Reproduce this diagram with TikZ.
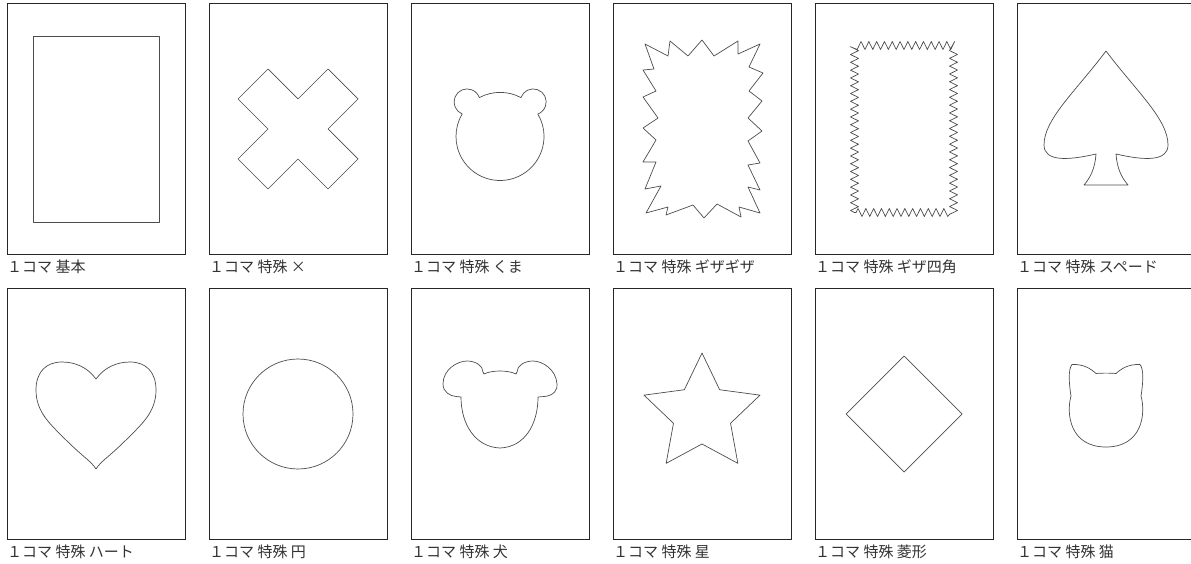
\documentclass[tikz,border=0pt]{standalone}
\usepackage{fontspec}
\setmainfont{Noto Sans CJK JP}
\usetikzlibrary{positioning, decorations.pathmorphing}
\tikzset{
  panel/.style ={draw=black!85, line width=0.9pt, inner sep=0pt, outer sep=0pt,
                 minimum width=178pt, minimum height=251pt},
  cut/.style   ={draw=black!70, line width=0.7pt, line join=round},
  lbl/.style   ={inner sep=0pt, text=black!80,
                 font=\fontsize{15pt}{15pt}\selectfont},
}

\begin{document}
\begin{tikzpicture}[x=1pt, y=1pt, node distance=24pt]
  \useasboundingbox (0,0) rectangle (1191,-564);
  % panels, top row
  \node[panel] (p1) at (96,-129) {};
  \node[panel, right=of p1] (p2) {};
  \node[panel, right=of p2] (p3) {};
  \node[panel, right=of p3] (p4) {};
  \node[panel, right=of p4] (p5) {};
  \node[panel, right=of p5] (p6) {};
  % panels, bottom row
  \node[panel, below=34pt of p1] (p7) {};
  \node[panel, right=of p7] (p8) {};
  \node[panel, right=of p8] (p9) {};
  \node[panel, right=of p9] (p10) {};
  \node[panel, right=of p10] (p11) {};
  \node[panel, right=of p11] (p12) {};
  % captions
  \foreach \i/\t in {1/基本, 2/特殊 ×, 3/特殊 くま, 4/特殊 ギザギザ,
                     5/特殊 ギザ四角, 6/特殊 スペード, 7/特殊 ハート, 8/特殊 円,
                     9/特殊 犬, 10/特殊 星, 11/特殊 菱形, 12/特殊 猫}
    \node[lbl, below right=5pt and 0pt of p\i.south west] (l\i) {１コマ \t};

  % basic
  \draw[cut, shift={(p1.center)}] (-63,-93) rectangle (63,93);
  % cross
  \draw[cut, shift={(p2.center)}] (0,30) -- (30,60) -- (60,30) -- (30,0) -- (60,-30)
    -- (30,-60) -- (0,-30) -- (-30,-60) -- (-60,-30) -- (-30,0) -- (-60,30)
    -- (-30,60) -- cycle;
  % bear
  \draw[cut, shift={(p3.center)}] (0,-7.5) ++(30.8:44)
    arc[start angle=30.8, end angle=-210.8, radius=44]
    arc[start angle=248, end angle=19.4, radius=13]
    arc[start angle=118.2, end angle=61.8, radius=44]
    arc[start angle=160.6, end angle=-68, radius=13] -- cycle;
  % spikes
  \draw[cut, shift={(p4.center)}] (-57,85) -- (-34,73) -- (-32,88) -- (-14,73)
    -- (0,89) -- (12,73) -- (36,88) -- (36,75) -- (58,85) -- (47,62) -- (61,56)
    -- (47,38) -- (60,28) -- (46,11) -- (60,-2) -- (46,-12) -- (58,-34)
    -- (46,-36) -- (58,-61) -- (46,-58) -- (58,-84) -- (37,-78) -- (39,-88)
    -- (15,-75) -- (2,-89) -- (-9,-76) -- (-36,-86) -- (-34,-78) -- (-56,-84)
    -- (-41,-57) -- (-57,-60) -- (-46,-33) -- (-59,-33) -- (-46,-11) -- (-59,1)
    -- (-44,11) -- (-59,32) -- (-46,38) -- (-59,59) -- (-48,60) -- cycle;
  % zigzag frame
  \draw[cut, shift={(p5.center)}, decorate,
        decoration={zigzag, segment length=7.8pt, amplitude=4pt}]
    (-49.5,-83.5) rectangle (49.5,83.5);
  % spade
  \draw[cut, shift={(p6.center)}] (0,78) .. controls (-30,38) and (-62,10) .. (-62,-16)
    .. controls (-62,-32) and (-40,-32) .. (-10,-25)
    .. controls (-11,-40) and (-16,-49) .. (-22,-56) -- (22,-56)
    .. controls (16,-49) and (11,-40) .. (10,-25)
    .. controls (40,-32) and (62,-32) .. (62,-16)
    .. controls (62,10) and (30,38) .. (0,78) -- cycle;
  % heart
  \draw[cut, shift={(p7.center)}] (0,35) .. controls (-8,46) and (-20,52) .. (-34,52)
    .. controls (-50,52) and (-60,42) .. (-60,24)
    .. controls (-60,2) and (-46,-10) .. (-30,-26)
    .. controls (-14,-42) and (-4,-48) .. (0,-55)
    .. controls (4,-48) and (14,-42) .. (30,-26)
    .. controls (46,-10) and (60,2) .. (60,24)
    .. controls (60,42) and (50,52) .. (34,52)
    .. controls (20,52) and (8,46) .. (0,35) -- cycle;
  % circle
  \draw[cut] (p8.center) circle[radius=55];
  % dog
  \draw[cut, shift={(p9.center)}] (-39,17) .. controls (-39,-10) and (-25,-33) .. (0,-34)
    .. controls (25,-33) and (38,-10) .. (38,17) -- (44,17.5)
    .. controls (54,18) and (58,25) .. (57,30)
    .. controls (56,45) and (42,53) .. (33,53)
    .. controls (24,53) and (17,48) .. (17,42) -- (16,40)
    .. controls (8,44) and (-8,44) .. (-16,40) -- (-17,42)
    .. controls (-17,48) and (-24,53) .. (-33,53)
    .. controls (-42,53) and (-57,45) .. (-57,30)
    .. controls (-57,22) and (-50,18) .. (-44,17.5) -- cycle;
  % star
  \draw[cut, shift={(p10.center)}] (90:61) -- (126:30) -- (162:61) -- (198:30)
    -- (234:61) -- (270:30) -- (306:61) -- (342:30) -- (18:61) -- (54:30) -- cycle;
  % diamond
  \draw[cut, shift={(p11.center)}] (0,58) -- (58,0) -- (0,-58) -- (-58,0) -- cycle;
  % cat
  \draw[cut, shift={(p12.center)}] (-10,40.5) .. controls (-15,45) and (-22,50) .. (-34,49.5)
    .. controls (-38,45) and (-37,30) .. (-35,18)
    .. controls (-40,0) and (-36,-33) .. (0,-33)
    .. controls (36,-33) and (40,0) .. (35,18)
    .. controls (37,30) and (38,45) .. (34,49.5)
    .. controls (22,50) and (15,45) .. (10,40.5)
    .. controls (5,41) and (-5,41) .. (-10,40.5) -- cycle;
\end{tikzpicture}
\end{document}
